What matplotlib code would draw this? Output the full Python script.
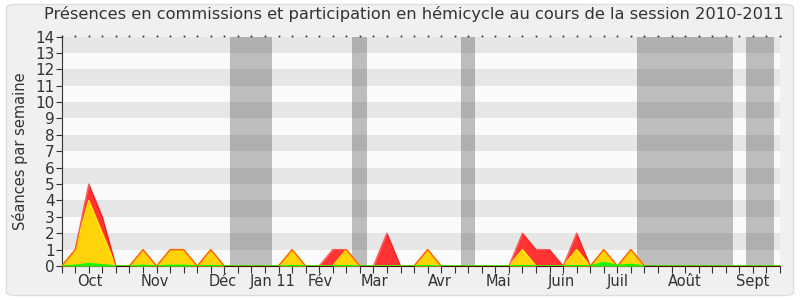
import numpy as np
import matplotlib.pyplot as plt
from matplotlib.patches import FancyBboxPatch

# séances par semaine (une valeur par semaine, depuis fin septembre 2010)
commissions = [0, 1, 5, 3, 0, 0, 1, 0, 1, 1, 0, 1, 0, 0, 0, 0, 0, 1, 0, 0,
               1, 1, 0, 0, 2, 0, 0, 1, 0, 0, 0, 0, 0, 0, 2, 1, 1, 0, 2, 0,
               1, 0, 1, 0, 0, 0, 0, 0, 0, 0, 0, 0, 0, 0]
hemicycle = [0, 1, 4, 2, 0, 0, 1, 0, 1, 1, 0, 1, 0, 0, 0, 0, 0, 1, 0, 0,
             0, 1, 0, 0, 0, 0, 0, 1, 0, 0, 0, 0, 0, 0, 1, 0, 0, 0, 1, 0,
             1, 0, 1, 0, 0, 0, 0, 0, 0, 0, 0, 0, 0, 0]
interventions = [0, 0.04, 0.15, 0.08, 0, 0, 0.04, 0, 0.04, 0.04, 0, 0.02, 0, 0, 0, 0, 0, 0.02, 0, 0,
                 0, 0.02, 0, 0, 0, 0, 0, 0.02, 0, 0, 0, 0, 0, 0, 0.02, 0, 0, 0, 0.02, 0,
                 0.22, 0.04, 0.1, 0, 0, 0, 0, 0, 0, 0, 0, 0, 0, 0]

# vacances parlementaires (en semaines)
vacances = [(12.45, 15.5), (21.45, 22.5), (29.45, 30.5), (42.45, 49.5), (50.5, 52.55)]

mois = ["Oct", "Nov", "Déc", "Jan 11", "Fév", "Mar", "Avr", "Mai", "Juin", "Juil", "Août", "Sept"]
mois_pos = [2.1, 6.9, 11.9, 15.6, 19.1, 23.1, 27.9, 32.2, 36.9, 41.0, 46.0, 51.0]

semaines = np.arange(len(commissions))

fig = plt.figure(figsize=(8, 3), dpi=100)
fig.patch.set_facecolor('white')
fig.patches.append(FancyBboxPatch((0.008, 0.015), 0.984, 0.97, boxstyle="round,pad=0,rounding_size=0.012",
                                  transform=fig.transFigure, facecolor='#f0f0f0', edgecolor='#dddddd',
                                  linewidth=1, zorder=-10))

ax = fig.add_axes([0.0771, 0.1133, 0.8979, 0.765])
ax.set_facecolor('#fafafa')
ax.set_xlim(0, 53)
ax.set_ylim(0, 14)

# bandes horizontales
for y in range(1, 14, 2):
    ax.axhspan(y, y + 1, color='#e6e6e6', lw=0, zorder=0)

for debut, fin in vacances:
    ax.axvspan(debut, fin, color='#323232', alpha=0.3, lw=0, zorder=1)

ax.fill_between(semaines, commissions, color='#ff3333', lw=0, zorder=2)
ax.fill_between(semaines, hemicycle, color='#ffd30a', lw=0, zorder=3)
ax.fill_between(semaines, interventions, color='#22ee22', lw=0, zorder=4)
ax.plot(semaines, hemicycle, color='#ffee00', lw=1, zorder=5)
ax.plot(semaines, commissions, color='#ff0000', lw=1, alpha=0.6, zorder=6)
ax.plot(semaines, interventions, color='#00ff00', lw=1, zorder=7)

ax.set_yticks(range(0, 15))
ax.set_xticks(range(0, 54))
ax.set_xticklabels([])
ax.tick_params(axis='x', direction='out', length=5, color='#333333')
ax.tick_params(axis='y', direction='out', length=4, color='#333333', labelsize=11, labelcolor='#333333', pad=1)

for pos, nom in zip(mois_pos, mois):
    ax.text(pos, -0.5, nom, ha='center', va='top', fontsize=10.5, color='#333333')

for s in ['top', 'right']:
    ax.spines[s].set_visible(False)
ax.spines['left'].set_color('#333333')
ax.spines['bottom'].set_color('#4a1000')

# petits points en haut
ax.plot(semaines, np.full(len(semaines), 14.03), ls='none', marker='s', markersize=1.2, mew=0,
        color='#222222', clip_on=False, zorder=8)

ax.set_ylabel('Séances par semaine', fontsize=10.5, color='#333333', labelpad=5)
fig.text(0.517, 0.953, 'Présences en commissions et participation en hémicycle au cours de la session 2010-2011',
         ha='center', va='center', fontsize=11.7, color='#333333')

fig.savefig('out.png', dpi=100, facecolor=fig.get_facecolor())
